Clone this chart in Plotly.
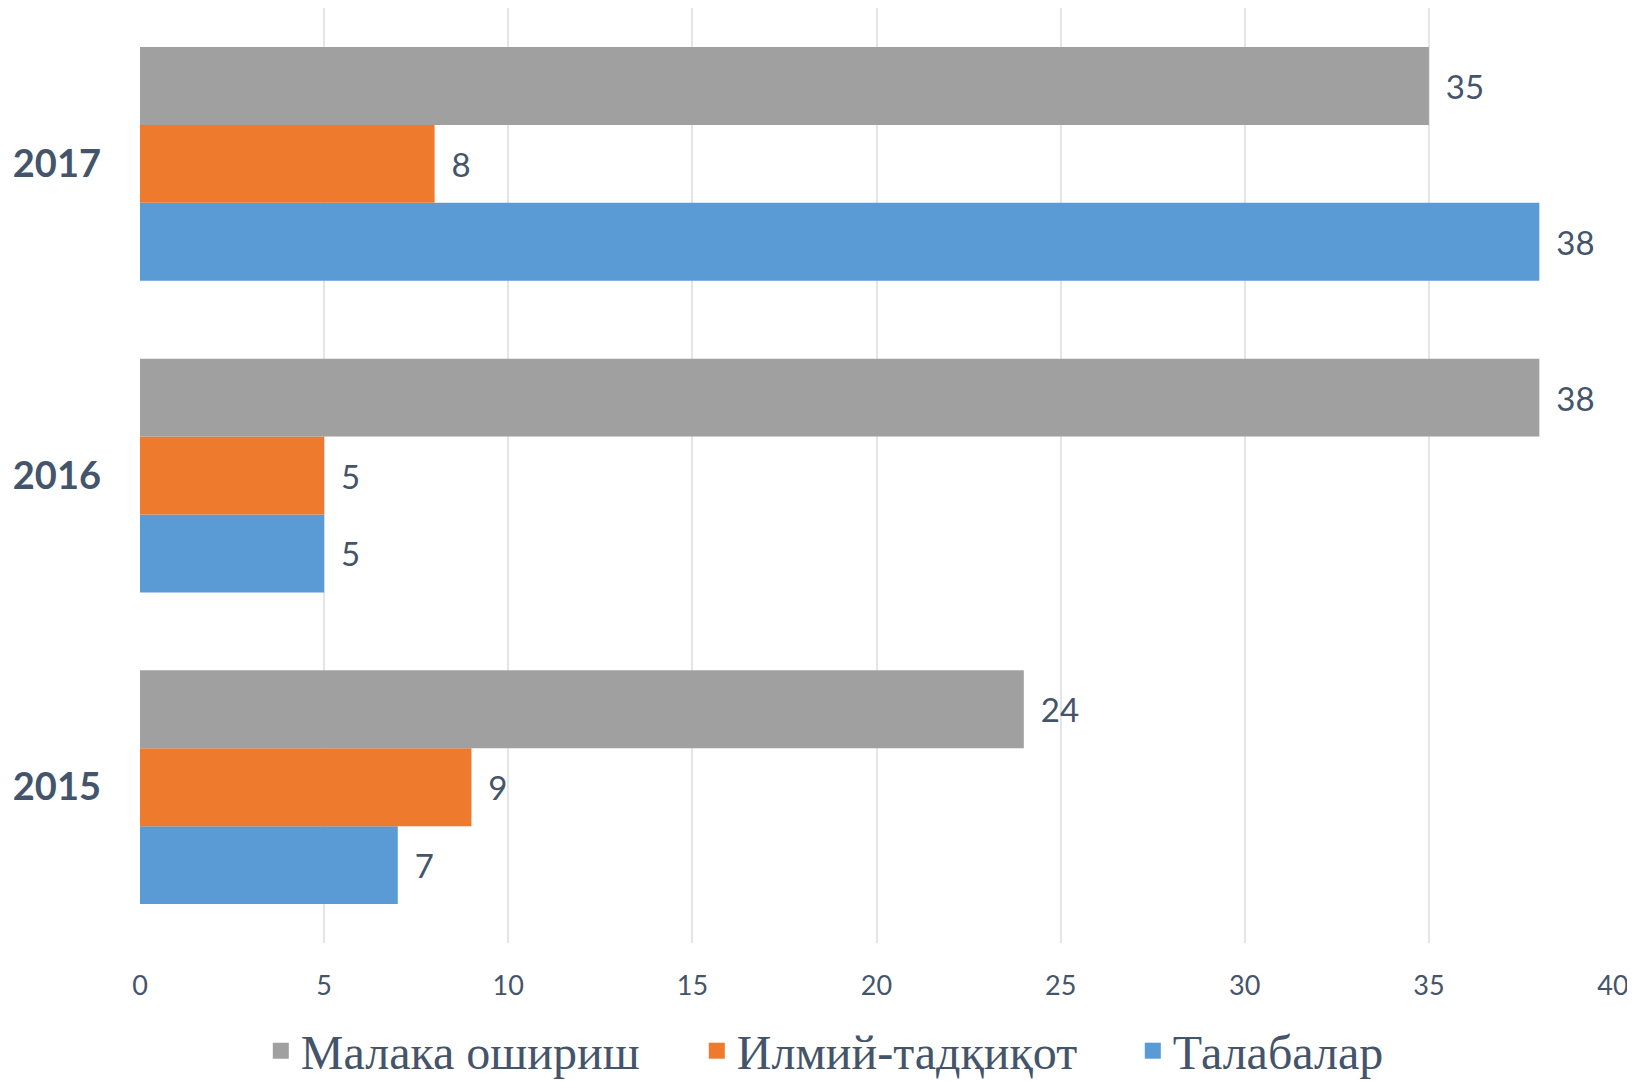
import plotly.graph_objects as go

years = ["2015", "2016", "2017"]
talabalar = [7, 5, 38]
ilmiy = [9, 5, 8]
malaka = [24, 38, 35]

names = ["Талабалар", "Илмий-тадқиқот", "Малака ошириш"]
colors = ["#5A9AD5", "#EE7A2D", "#A0A0A0"]
series = [talabalar, ilmiy, malaka]

# page body keeps an 8px margin, so the figure is 8px smaller each way
W, H = 1627, 1073
L, R, T, B = 132, 22, 0, 138
txt = "#44546A"

fig = go.Figure()
for name, col, vals in zip(names, colors, series):
    fig.add_trace(go.Bar(
        y=years, x=vals, name=name, orientation="h",
        marker=dict(color=col, line=dict(width=0)),
        text=vals, texttemplate=" \u2006%{x}", textposition="outside",
        textfont=dict(family="Lato", size=33, color=txt),
        cliponaxis=False, showlegend=False,
    ))
# legend entries (same series, larger square symbols)
for name, col in zip(names, colors):
    fig.add_trace(go.Scatter(
        x=[None], y=[None], name=name, mode="markers",
        marker=dict(symbol="square", size=16, color=col),
        showlegend=True,
    ))

fig.update_layout(
    width=W, height=H,
    margin=dict(l=L, r=R, t=T, b=B, autoexpand=False),
    paper_bgcolor="white", plot_bgcolor="white",
    barmode="group", bargap=0.25, bargroupgap=0,
    showlegend=True,
    legend=dict(orientation="h", traceorder="reversed",
                x=0.526, xanchor="center", y=-0.1155, yanchor="middle",
                font=dict(family="Liberation Serif", size=48, color=txt),
                itemwidth=30, entrywidth=391, bgcolor="rgba(0,0,0,0)"),
    xaxis=dict(range=[0, 40], tick0=0, dtick=5, showgrid=True,
               gridcolor="#E2E6EC", gridwidth=2, zeroline=False,
               showline=False, ticks="", automargin=False,
               tickfont=dict(family="Lato", size=27, color=txt),
               ticklabelstandoff=24),
    yaxis=dict(type="category", showgrid=False, zeroline=False,
               showline=False, ticks="", automargin=False,
               tickfont=dict(family="Lato", size=38, color=txt, weight="bold"),
               ticklabelstandoff=38),
)

fig.write_html("out.html")
